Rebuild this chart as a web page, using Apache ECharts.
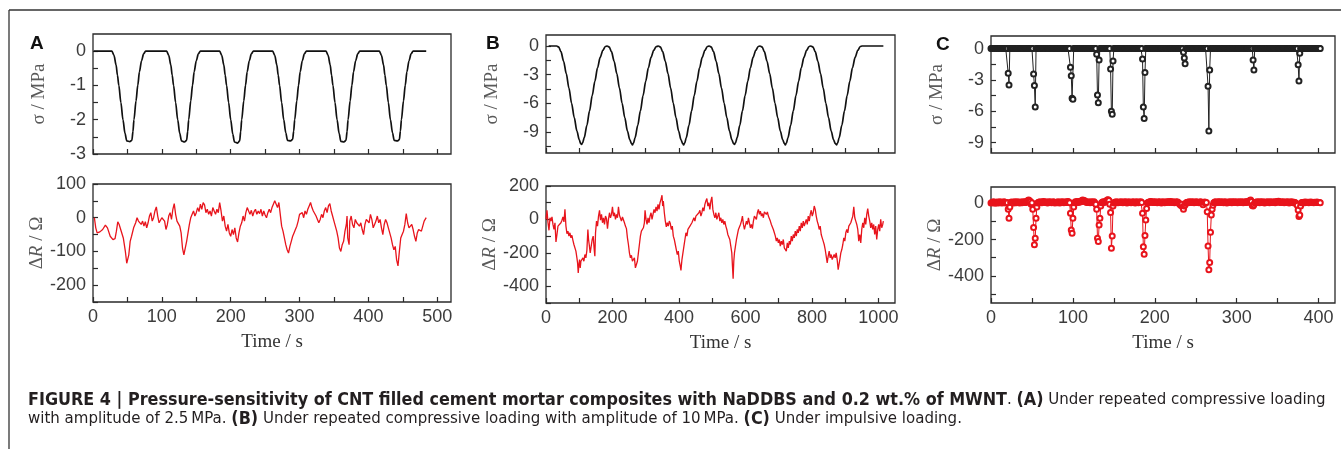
<!DOCTYPE html>
<html><head><meta charset="utf-8">
<script src="https://cdn.jsdelivr.net/npm/echarts@6/dist/echarts.min.js"></script>
<style>html,body{margin:0;padding:0;background:#fff;}#c{width:1341px;height:449px;}</style>
</head><body><div id="c"></div>
<script>
// ---------- DATA ----------
// Panel A: time (s) vs stress (MPa)
const aSigma = [[1,0],
[27.5,0],[30.5,-0.12],[33.5,-0.4],[35.5,-0.7],[37.5,-1.0],[40.5,-1.5],[43.5,-2.0],[46.5,-2.4],[49,-2.62],[53.5,-2.64],[56.5,-2.6],[58,-2.35],[59.5,-2.0],[62.5,-1.45],[65,-1.0],[67.5,-0.6],[70.5,-0.28],[73.5,-0.08],[76.5,0],
[107,0],[110,-0.12],[113,-0.4],[115,-0.7],[117,-1.0],[120,-1.5],[123,-2.0],[126,-2.4],[128.5,-2.62],[133,-2.65],[136,-2.6],[137.5,-2.35],[139,-2.0],[142,-1.45],[144.5,-1.0],[147,-0.6],[150,-0.28],[153,-0.08],[156,0],
[184,0],[187,-0.12],[190,-0.4],[192,-0.7],[194,-1.0],[197,-1.5],[200,-2.0],[203,-2.42],[205.5,-2.65],[210,-2.68],[213,-2.62],[214.5,-2.35],[216,-2.0],[219,-1.45],[221.5,-1.0],[224,-0.6],[227,-0.28],[230,-0.08],[233,0],
[261,0],[264,-0.12],[267,-0.4],[269,-0.7],[271,-1.0],[274,-1.5],[277,-2.0],[280,-2.38],[282.5,-2.6],[287,-2.62],[290,-2.57],[291.5,-2.33],[293,-2.0],[296,-1.45],[298.5,-1.0],[301,-0.6],[304,-0.28],[307,-0.08],[310,0],
[338.5,0],[341.5,-0.12],[344.5,-0.4],[346.5,-0.7],[348.5,-1.0],[351.5,-1.5],[354.5,-2.0],[357.5,-2.4],[360,-2.63],[364.5,-2.65],[367.5,-2.6],[369,-2.35],[370.5,-2.0],[373.5,-1.45],[376,-1.0],[378.5,-0.6],[381.5,-0.28],[384.5,-0.08],[387.5,0],
[416,0],[419,-0.12],[422,-0.4],[424,-0.7],[426,-1.0],[429,-1.5],[432,-2.0],[435,-2.38],[437.5,-2.6],[442,-2.62],[445,-2.58],[446.5,-2.33],[448,-2.0],[451,-1.45],[453.5,-1.0],[456,-0.6],[459,-0.28],[462,-0.08],[465,0],[484,0]];

// Panel A: time (s) vs resistance change (Ohm)
const aDeltaR = [[2,0],[4,-30],[6,-45],[10,-42],[14,-35],[18,-22],[21,-30],[25,-55],[29,-65],[32,-62],[34,-40],[36,-12],[38,-20],[41,-40],[44,-60],[47,-100],[49,-135],[50,-140],[52,-110],[54,-70],[56,-55],[59,-30],[62,-15],[64,0],[66,-10],[68,-5],[70,-20],[72,-10],[74,-25],[76,-12],[78,-30],[80,-15],[82,5],[84,15],[86,-10],[88,0],[90,20],[92,32],[94,5],[96,-15],[98,-20],[100,0],[102,5],[104,-10],[106,-35],[108,-20],[110,5],[112,15],[114,-5],[116,25],[118,42],[120,10],[122,-10],[124,-5],[126,-25],[128,-45],[130,-90],[132,-110],[134,-108],[136,-70],[138,-45],[140,-20],[142,0],[144,10],[146,20],[148,5],[150,15],[152,30],[154,18],[156,40],[158,25],[160,45],[162,38],[164,15],[166,25],[168,10],[170,20],[172,5],[174,30],[176,20],[178,10],[180,25],[182,15],[184,45],[186,20],[188,-10],[190,5],[192,-25],[194,-40],[196,-20],[198,-45],[200,-55],[202,-35],[204,-50],[206,-30],[208,-60],[210,-72],[212,-45],[214,-25],[216,-15],[218,5],[220,-10],[222,15],[224,30],[226,20],[228,10],[230,22],[232,5],[234,18],[236,25],[238,10],[240,20],[242,12],[244,25],[246,5],[248,20],[250,8],[252,0],[254,15],[256,25],[258,15],[260,30],[262,40],[264,50],[266,55],[268,30],[270,45],[272,10],[274,-25],[276,-40],[278,-60],[280,-80],[282,-95],[284,-105],[286,-85],[288,-70],[290,-55],[292,-45],[294,-35],[296,-25],[298,-10],[300,10],[302,5],[304,15],[306,0],[308,20],[310,10],[312,25],[314,35],[316,45],[318,30],[320,20],[322,25],[324,5],[326,-5],[328,-15],[330,-5],[332,10],[334,0],[336,20],[338,30],[340,15],[342,35],[344,42],[346,20],[348,5],[350,-10],[352,-25],[354,-40],[356,-60],[358,-90],[360,-100],[362,-80],[364,-70],[366,-40],[368,-20],[369,5],[370,-60],[372,-80],[373,-10],[375,5],[377,-20],[379,-30],[381,-5],[383,-15],[385,-10],[387,-25],[389,-15],[391,-35],[393,-50],[395,-20],[397,-5],[399,0],[401,-15],[403,10],[405,-5],[407,-30],[409,-20],[411,-10],[413,5],[415,-15],[417,-5],[419,-30],[421,-50],[423,-20],[425,-5],[427,-15],[429,-30],[431,-45],[433,-60],[435,-80],[437,-95],[439,-85],[441,-125],[443,-143],[445,-100],[447,-60],[449,-50],[451,-40],[453,-20],[455,12],[457,-15],[459,-30],[461,-25],[463,-20],[465,-35],[467,-55],[469,-70],[471,-45],[473,-35],[475,-30],[477,-40],[479,-35],[481,-10],[483,-5],[484,0]];

// Panel B: time (s) vs stress (MPa)
const bSigma = [[8,0],[32,0],[38,-0.1],[45,-0.6],[53,-1.6],[61,-2.9],[69,-4.4],[77,-6.0],[85,-7.5],[93,-8.9],[100,-9.8],[104,-10.2],[107,-10.3],[110,-10.15],[115,-9.6],[123,-8.3],[131,-6.8],[139,-5.2],[147,-3.7],[155,-2.3],[163,-1.2],[171,-0.45],[178,-0.08],[184,0],
[190,-0.1],[197,-0.6],[205,-1.6],[213,-2.9],[221,-4.4],[229,-6.0],[237,-7.5],[245,-8.9],[252,-9.8],[257,-10.2],[260,-10.35],[263,-10.2],[268,-9.6],[276,-8.3],[284,-6.8],[292,-5.2],[300,-3.7],[308,-2.3],[316,-1.2],[324,-0.45],[331,-0.08],[338,0],
[344,-0.1],[351,-0.6],[359,-1.6],[367,-2.9],[375,-4.4],[383,-6.0],[391,-7.5],[399,-8.9],[406,-9.8],[411,-10.2],[414,-10.35],[417,-10.2],[422,-9.6],[430,-8.3],[438,-6.8],[446,-5.2],[454,-3.7],[462,-2.3],[470,-1.2],[478,-0.45],[485,-0.08],[491,0],
[497,-0.1],[504,-0.6],[512,-1.6],[520,-2.9],[528,-4.4],[536,-6.0],[544,-7.5],[552,-8.9],[559,-9.8],[564,-10.2],[567,-10.3],[570,-10.15],[575,-9.6],[583,-8.3],[591,-6.8],[599,-5.2],[607,-3.7],[615,-2.3],[623,-1.2],[631,-0.45],[638,-0.08],[644,0],
[650,-0.1],[657,-0.6],[665,-1.6],[673,-2.9],[681,-4.4],[689,-6.0],[697,-7.5],[705,-8.9],[712,-9.8],[717,-10.2],[720,-10.35],[723,-10.2],[728,-9.6],[736,-8.3],[744,-6.8],[752,-5.2],[760,-3.7],[768,-2.3],[776,-1.2],[784,-0.45],[791,-0.08],[797,0],
[803,-0.1],[810,-0.6],[818,-1.6],[826,-2.9],[834,-4.4],[842,-6.0],[850,-7.5],[858,-8.9],[865,-9.8],[870,-10.2],[874,-10.35],[877,-10.2],[882,-9.6],[890,-8.3],[898,-6.8],[906,-5.2],[914,-3.7],[922,-2.3],[930,-1.2],[938,-0.45],[945,-0.08],[951,0],[1015,0]];

// Panel B: time (s) vs resistance change (Ohm)
const bDeltaR = [[0,0],[3,55],[6,-20],[9,-65],[12,10],[15,-10],[18,15],[21,-30],[24,-60],[27,-20],[30,-135],[33,-90],[36,-40],[39,-50],[42,-30],[45,-20],[48,-5],[51,15],[54,-15],[57,60],[60,-40],[63,-85],[66,-70],[69,-100],[72,-80],[75,-110],[78,-95],[81,-125],[84,-150],[87,-140],[90,-190],[93,-230],[95,-260],[97,-320],[99,-270],[101,-240],[103,-290],[105,-250],[108,-260],[111,-230],[114,-250],[117,-210],[120,-230],[123,-185],[126,-60],[128,-120],[130,-150],[133,-200],[136,-160],[139,-120],[142,-100],[145,-180],[147,-220],[149,-80],[152,-10],[155,-40],[158,20],[161,55],[164,-5],[167,30],[170,-20],[173,10],[176,-30],[179,20],[182,5],[185,-55],[188,0],[191,40],[194,10],[197,30],[200,75],[203,20],[206,40],[209,0],[212,30],[215,10],[218,75],[221,25],[224,20],[227,-10],[230,15],[233,5],[236,-20],[239,-40],[242,-55],[245,-110],[248,-150],[251,-200],[254,-230],[257,-215],[260,-250],[263,-260],[266,-230],[269,-290],[272,-270],[275,-250],[278,-200],[281,-150],[284,-100],[287,-70],[290,-60],[293,-50],[296,-20],[298,55],[301,0],[304,-30],[307,10],[310,-20],[313,20],[316,40],[319,0],[322,30],[325,60],[328,40],[331,75],[334,50],[337,90],[340,60],[343,100],[346,120],[349,145],[351,80],[353,110],[356,40],[359,-10],[362,-45],[365,-20],[368,-40],[371,-10],[374,-25],[377,-60],[380,-40],[383,-100],[386,-120],[389,-150],[392,-180],[395,-210],[398,-190],[401,-250],[404,-280],[406,-305],[409,-240],[412,-200],[415,-160],[418,-120],[421,-80],[424,-100],[427,-60],[430,-70],[433,-40],[436,-50],[439,-20],[442,-5],[445,10],[448,-10],[451,20],[454,30],[457,10],[460,40],[463,55],[466,20],[469,40],[472,70],[475,50],[478,90],[481,110],[484,125],[487,80],[490,100],[493,60],[496,110],[499,135],[502,60],[505,30],[508,10],[511,40],[514,0],[517,20],[520,40],[523,-10],[526,10],[529,-20],[532,0],[535,-30],[538,-10],[541,-40],[544,-60],[547,-90],[550,-80],[553,-120],[556,-160],[559,-200],[561,-280],[563,-355],[565,-250],[567,-200],[570,-160],[573,-120],[576,-90],[579,-60],[582,-70],[585,-30],[588,-10],[591,20],[594,-30],[597,-60],[600,-50],[603,-10],[606,-30],[609,10],[612,-20],[615,-50],[618,-30],[621,-55],[624,-10],[627,20],[630,30],[633,0],[636,40],[639,60],[642,30],[645,50],[648,20],[651,35],[654,10],[657,45],[660,55],[663,30],[666,45],[669,20],[672,10],[675,-10],[678,-30],[681,-20],[684,-60],[687,-80],[690,-100],[693,-130],[696,-110],[699,-140],[702,-120],[705,-160],[708,-130],[711,-150],[714,-120],[717,-170],[720,-160],[723,-190],[726,-140],[729,-170],[732,-130],[735,-150],[738,-100],[741,-130],[744,-90],[747,-110],[750,-70],[753,-100],[756,-60],[759,-80],[762,-40],[765,-70],[768,-20],[771,-50],[774,-10],[777,-40],[780,-20],[783,0],[786,-30],[789,20],[792,-10],[795,30],[798,55],[801,20],[804,40],[807,80],[810,60],[813,20],[816,-10],[819,-30],[822,-60],[825,-40],[828,-90],[831,-110],[834,-130],[837,-150],[840,-180],[843,-220],[846,-260],[849,-220],[852,-190],[855,-230],[858,-210],[861,-240],[864,-250],[867,-210],[870,-230],[873,-200],[876,-240],[879,-300],[881,-310],[884,-240],[887,-200],[890,-180],[893,-150],[896,-110],[899,-130],[902,-80],[905,-60],[908,-80],[911,-40],[914,-50],[917,-20],[920,-30],[923,20],[926,75],[929,10],[932,-10],[935,-30],[938,-60],[941,-130],[944,-90],[947,-140],[950,-60],[953,-20],[956,-50],[959,10],[962,-30],[965,30],[968,65],[971,20],[974,-10],[977,-50],[980,-20],[983,-60],[986,-30],[989,-90],[992,-40],[995,-120],[998,-60],[1001,-30],[1004,-70],[1007,0],[1010,-50],[1013,-30],[1015,-10]];

// Panel C: one sample per second, t = 0 ... 402 s
const cSigma = [
0,0,0,0,0,0,0,0,0,0,0,0,0,0,0,0,0,0,0,0,
0,-2.36,-3.48,0,0,0,0,0,0,0,0,0,0,0,0,0,0,0,0,0,
0,0,0,0,0,0,0,0,0,0,0,0,-2.43,-3.54,-5.6,0,0,0,0,0,
0,0,0,0,0,0,0,0,0,0,0,0,0,0,0,0,0,0,0,0,
0,0,0,0,0,0,0,0,0,0,0,0,0,0,0,0,0,-1.8,-2.6,-4.75,
-4.85,0,0,0,0,0,0,0,0,0,0,0,0,0,0,0,0,0,0,0,
0,0,0,0,0,0,0,0,0,-0.55,-4.45,-5.2,-1.1,0,0,0,0,0,0,0,
0,0,0,0,0,0,-1.95,-6.0,-6.3,-1.2,0,0,0,0,0,0,0,0,0,0,
0,0,0,0,0,0,0,0,0,0,0,0,0,0,0,0,0,0,0,0,
0,0,0,0,0,-1.0,-5.6,-6.7,-2.3,0,0,0,0,0,0,0,0,0,0,0,
0,0,0,0,0,0,0,0,0,0,0,0,0,0,0,0,0,0,0,0,
0,0,0,0,0,0,0,0,0,0,0,0,0,0,0,-0.35,-0.9,-1.45,0,0,
0,0,0,0,0,0,0,0,0,0,0,0,0,0,0,0,0,0,0,0,
0,0,0,0,0,-3.6,-7.9,-2.05,0,0,0,0,0,0,0,0,0,0,0,0,
0,0,0,0,0,0,0,0,0,0,0,0,0,0,0,0,0,0,0,0,
0,0,0,0,0,0,0,0,0,0,0,0,0,0,0,0,0,0,0,0,
-1.1,-2.05,0,0,0,0,0,0,0,0,0,0,0,0,0,0,0,0,0,0,
0,0,0,0,0,0,0,0,0,0,0,0,0,0,0,0,0,0,0,0,
0,0,0,0,0,0,0,0,0,0,0,0,0,0,0,-1.55,-3.1,-0.45,0,0,
0,0,0,0,0,0,0,0,0,0,0,0,0,0,0,0,0,0,0,0,
0,0,0];
const cDeltaR = [
2,5,3,8,4,1,6,3,7,2,5,9,4,2,6,3,8,5,2,4,
3,-33,-83,-20,4,7,3,6,2,8,5,3,9,4,6,2,7,5,3,8,
6,4,9,5,12,15,18,14,10,-5,3,-33,-134,-229,-193,-83,-20,2,6,4,
8,5,3,7,10,6,4,9,5,2,6,8,4,7,3,5,9,6,2,4,
6,3,8,5,2,7,4,9,6,3,5,8,4,6,10,7,3,-55,-147,-165,
-83,-20,3,8,5,10,7,4,9,12,8,15,18,14,16,10,7,5,8,4,
6,3,9,5,7,4,8,2,-5,-33,-193,-211,-119,-83,-15,3,6,9,5,7,
10,14,18,20,15,-5,-51,-248,-180,-15,2,6,4,8,5,3,7,4,6,9,
5,3,7,4,8,6,2,5,9,4,6,3,7,5,8,4,2,6,9,5,
3,7,5,8,4,-55,-239,-281,-178,-92,-28,2,6,4,8,10,7,5,9,6,
4,8,5,3,7,6,9,4,2,6,8,5,3,7,4,9,6,8,5,10,
7,4,8,6,3,5,9,4,7,2,-3,-8,-12,-5,-20,-33,-15,-8,2,5,
6,3,8,5,7,4,9,6,3,5,8,4,7,5,3,6,9,4,2,-8,
4,7,3,5,-46,-235,-367,-327,-160,-64,-33,-10,3,6,8,5,4,7,9,6,
5,8,4,7,3,6,9,5,2,6,4,8,5,7,3,9,6,4,8,5,
7,3,6,9,5,4,8,6,3,7,5,9,4,10,6,12,15,18,10,-12,
-15,-8,3,6,4,8,5,7,3,9,6,4,8,5,2,7,4,6,9,5,
3,8,6,4,7,5,9,3,6,10,8,12,7,5,9,4,6,8,3,5,
7,4,9,6,2,5,8,4,7,3,6,5,2,-5,-10,-37,-73,-64,-15,3,
5,4,6,3,7,5,4,6,3,5,7,4,6,5,3,6,4,5,7,4,
5,4,3];

// Tick labels and tick marks
const aTimeLabels = [0,100,200,300,400,500];
const aTimeTicks = [0,50,100,150,200,250,300,350,400,450,500];
const aSigmaLabels = [0,-1,-2,-3];
const aSigmaTicks = [-3,-2.5,-2,-1.5,-1,-0.5,0];
const aDeltaRLabels = [100,0,-100,-200];
const aDeltaRTicks = [-250,-200,-150,-100,-50,0,50,100];
const bTimeLabels = [0,200,400,600,800,1000];
const bTimeTicks = [0,100,200,300,400,500,600,700,800,900,1000];
const bSigmaLabels = [0,-3,-6,-9];
const bSigmaTicks = [-10.5,-9,-7.5,-6,-4.5,-3,-1.5,0];
const bDeltaRLabels = [200,0,-200,-400];
const bDeltaRTicks = [-500,-400,-300,-200,-100,0,100,200];
const cTimeLabels = [0,100,200,300,400];
const cTimeTicks = [0,50,100,150,200,250,300,350,400];
const cSigmaLabels = [0,-3,-6,-9];
const cSigmaTicks = [-9,-7.5,-6,-4.5,-3,-1.5,0];
const cDeltaRLabels = [0,-200,-400];
const cDeltaRTicks = [-500,-400,-300,-200,-100,0];

// ---------- CHART ----------
const RED = '#e8141c';
const INK = '#2a2a2a';
const chart = echarts.init(document.getElementById('c'), null, {width:1341, height:449});

const grids = [
  {left:93, top:34, width:358, height:120},
  {left:93, top:184, width:358, height:118},
  {left:546, top:35, width:349, height:118},
  {left:546, top:186, width:349, height:117},
  {left:991, top:36, width:344, height:117},
  {left:991, top:187, width:344, height:116}
];

const labelStyle = {fontFamily:'Liberation Sans, Arial, sans-serif', fontSize:18, color:'#3c3c3c',
  formatter:function(v){ return String(v); }};
const nameStyle = {fontFamily:'Liberation Serif, Times New Roman, serif', fontSize:19, color:'#5a5a5a'};

function xAx(gi, min, max, labels, ticks, withLabels){
  return {type:'value', gridIndex:gi, min:min, max:max,
    splitLine:{show:false},
    axisLine:{show:false, onZero:false},
    axisTick:{show:true, inside:true, length:5, customValues:ticks, lineStyle:{color:INK, width:1.2}},
    axisLabel:Object.assign({show:withLabels, customValues:labels, margin:6}, labelStyle),
    name: withLabels ? 'Time / s' : '', nameLocation:'middle', nameGap:31,
    nameTextStyle:Object.assign({}, nameStyle, {color:'#333'})};
}
function yAx(gi, min, max, labels, ticks, name){
  return {type:'value', gridIndex:gi, min:min, max:max,
    splitLine:{show:false},
    axisLine:{show:false, onZero:false},
    axisTick:{show:true, inside:true, length:5, customValues:ticks, lineStyle:{color:INK, width:1.2}},
    axisLabel:Object.assign({customValues:labels, margin:7}, labelStyle),
    name:name, nameLocation:'middle', nameGap:44,
    nameTextStyle:Object.assign({}, nameStyle, {
      rich:{n:Object.assign({}, nameStyle), i:Object.assign({}, nameStyle, {fontStyle:'italic'})}
    })};
}
const sigName = 'σ / MPa';
const drName = '{n|Δ}{i|R}{n| / Ω}';
const capFont = 'Liberation Sans Narrow, DejaVu Sans Condensed, sans-serif';
const capRich = {
  b:{fontFamily:capFont, fontWeight:'bold', fontSize:17.8, fill:'#231f20'},
  r:{fontFamily:capFont, fontSize:16.7, fill:'#231f20'}
};

const option = {
  animation:false,
  backgroundColor:'#fff',
  grid: grids.map(g => Object.assign({show:true, borderColor:INK, borderWidth:1.3, backgroundColor:'transparent'}, g)),
  xAxis:[
    xAx(0, 0, 520, aTimeLabels, aTimeTicks, false),
    xAx(1, 0, 520, aTimeLabels, aTimeTicks, true),
    xAx(2, 0, 1050, bTimeLabels, bTimeTicks, false),
    xAx(3, 0, 1050, bTimeLabels, bTimeTicks, true),
    xAx(4, 0, 420, cTimeLabels, cTimeTicks, false),
    xAx(5, 0, 420, cTimeLabels, cTimeTicks, true)
  ],
  yAxis:[
    yAx(0, -3, 0.5, aSigmaLabels, aSigmaTicks, sigName),
    yAx(1, -250, 100, aDeltaRLabels, aDeltaRTicks, drName),
    yAx(2, -11.2, 1.15, bSigmaLabels, bSigmaTicks, sigName),
    yAx(3, -500, 200, bDeltaRLabels, bDeltaRTicks, drName),
    yAx(4, -10, 1.2, cSigmaLabels, cSigmaTicks, sigName),
    yAx(5, -550, 90, cDeltaRLabels, cDeltaRTicks, drName)
  ],
  series:[
    {type:'line', xAxisIndex:0, yAxisIndex:0, data:aSigma, showSymbol:false, smooth:0.3, smoothMonotone:'x',
      lineStyle:{color:'#111', width:1.7}, silent:true},
    {type:'line', xAxisIndex:1, yAxisIndex:1, data:aDeltaR, showSymbol:false,
      lineStyle:{color:RED, width:1.3}, silent:true},
    {type:'line', xAxisIndex:2, yAxisIndex:2, data:bSigma, showSymbol:false, smooth:0.3, smoothMonotone:'x',
      lineStyle:{color:'#111', width:1.7}, silent:true},
    {type:'line', xAxisIndex:3, yAxisIndex:3, data:bDeltaR, showSymbol:false,
      lineStyle:{color:RED, width:1.3}, silent:true},
    {type:'line', xAxisIndex:4, yAxisIndex:4, data:cSigma.map((v,i)=>[i,v]),
      symbol:'emptyCircle', symbolSize:5, showAllSymbol:true,
      lineStyle:{color:'#222', width:1}, itemStyle:{color:'#222', borderWidth:1}, silent:true},
    {type:'line', xAxisIndex:5, yAxisIndex:5, data:cDeltaR.map((v,i)=>[i,v]),
      symbol:'emptyCircle', symbolSize:5, showAllSymbol:true,
      lineStyle:{color:RED, width:1}, itemStyle:{color:RED, borderWidth:1}, silent:true}
  ],
  graphic:[
    {type:'line', shape:{x1:9, y1:10, x2:1341, y2:10}, style:{stroke:'#333', lineWidth:1.3}},
    {type:'line', shape:{x1:9, y1:10, x2:9, y2:449}, style:{stroke:'#333', lineWidth:1.3}},
    {type:'text', x:30, y:44, style:{text:'A', fontFamily:'Liberation Sans, Arial, sans-serif', fontWeight:'bold', fontSize:19, fill:'#111', verticalAlign:'middle'}},
    {type:'text', x:486, y:44, style:{text:'B', fontFamily:'Liberation Sans, Arial, sans-serif', fontWeight:'bold', fontSize:19, fill:'#111', verticalAlign:'middle'}},
    {type:'text', x:936, y:45, style:{text:'C', fontFamily:'Liberation Sans, Arial, sans-serif', fontWeight:'bold', fontSize:19, fill:'#111', verticalAlign:'middle'}},
    {type:'text', x:28, y:400, style:{
      text:'{b|FIGURE 4 | Pressure-sensitivity of CNT filled cement mortar composites with NaDDBS and 0.2 wt.% of MWNT}{r|. }{b|(A)}{r| Under repeated compressive loading}',
      verticalAlign:'middle', rich:capRich}},
    {type:'text', x:28, y:419, style:{
      text:'{r|with amplitude of 2.5\u2009MPa. }{b|(B)}{r| Under repeated compressive loading with amplitude of 10\u2009MPa. }{b|(C)}{r| Under impulsive loading.}',
      verticalAlign:'middle', rich:capRich}}
  ]
};
chart.setOption(option);
</script>
</body></html>
